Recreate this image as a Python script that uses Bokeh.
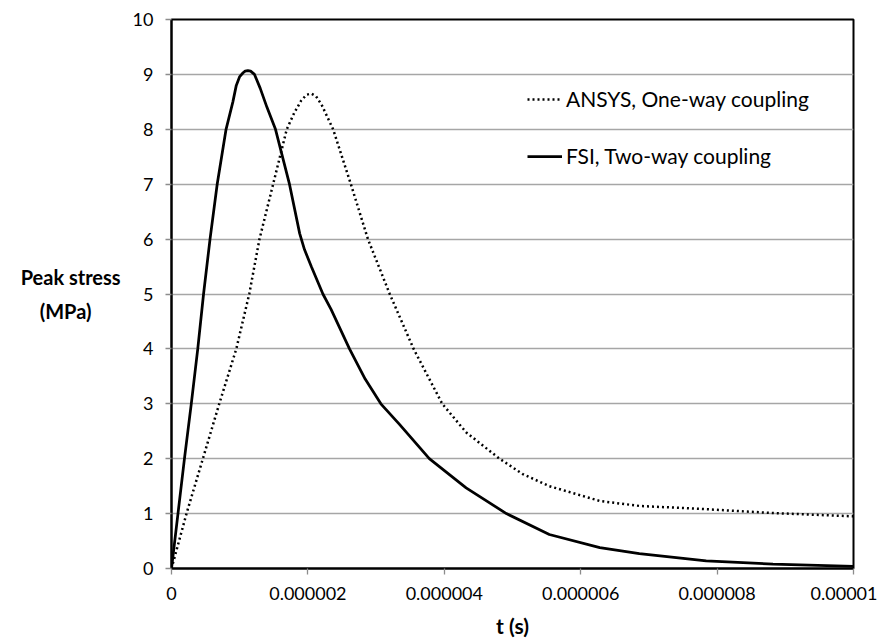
import numpy as np
from bokeh.plotting import figure
from bokeh.models import (ColumnDataSource, FixedTicker, Legend, LegendItem)
from bokeh.embed import file_html
from bokeh.resources import INLINE

# ---- data (time in microseconds, stress in MPa) ----
fsi_t_us = [0.0, 0.095, 0.19, 0.29, 0.385, 0.47, 0.565, 0.67, 0.80, 0.90, 0.95, 1.0,
            1.05, 1.08, 1.12, 1.16, 1.217, 1.30, 1.40, 1.525, 1.73, 1.88, 1.95, 2.05,
            2.22, 2.34, 2.61, 2.84, 3.07, 3.34, 3.64, 3.78, 4.32, 4.91, 5.54, 6.28,
            6.86, 7.84, 8.82, 10.0]
fsi_v = [0.0, 1.0, 2.0, 3.0, 4.0, 5.0, 6.0, 7.0, 8.0, 8.5, 8.8, 8.96,
         9.03, 9.06, 9.07, 9.06, 9.0, 8.75, 8.4, 8.0, 7.0, 6.1, 5.81, 5.5,
         5.0, 4.72, 4.0, 3.45, 3.0, 2.63, 2.2, 2.0, 1.47, 1.0, 0.62, 0.38,
         0.27, 0.14, 0.08, 0.04]

ansys_t_us = [0.0, 0.22, 0.46, 0.70, 0.95, 1.14, 1.29, 1.49, 1.69, 1.80, 1.90, 1.98,
              2.05, 2.12, 2.20, 2.37, 2.63, 2.88, 3.20, 3.34, 3.55, 3.97, 4.32, 4.81,
              5.15, 5.54, 6.28, 6.86, 7.84, 8.82, 10.0]
ansys_v = [0.0, 1.0, 2.0, 3.0, 4.0, 5.0, 6.0, 7.0, 8.0, 8.3, 8.52, 8.63,
           8.65, 8.6, 8.45, 8.0, 7.0, 6.0, 5.0, 4.6, 4.0, 3.0, 2.48, 2.0,
           1.72, 1.5, 1.23, 1.14, 1.08, 1.01, 0.95]

x_ticks = [0.0, 0.000002, 0.000004, 0.000006, 0.000008, 0.00001]
x_tick_labels = ["0", "0.000002", "0.000004", "0.000006", "0.000008", "0.00001"]
y_ticks = [0, 1, 2, 3, 4, 5, 6, 7, 8, 9, 10]

series_labels = ["ANSYS, One-way coupling", "FSI, Two-way coupling"]
y_title = ["Peak stress", "(MPa)"]
x_title = "t (s)"

FONT = "Lato"
NBSP = "\u00a0"

fsi_src = ColumnDataSource(dict(t=np.array(fsi_t_us) * 1e-6, v=fsi_v))
ansys_src = ColumnDataSource(dict(t=np.array(ansys_t_us) * 1e-6, v=ansys_v))

p = figure(frame_width=682, frame_height=549,
           x_range=(0, 0.00001), y_range=(0, 10),
           output_backend="svg", toolbar_location=None,
           min_border_left=171, min_border_right=24,
           min_border_top=19, min_border_bottom=60)

p.background_fill_color = "white"
p.border_fill_color = "white"
p.outline_line_color = "black"
p.outline_line_width = 2

# grid
p.xgrid.visible = False
p.ygrid.ticker = FixedTicker(ticks=y_ticks)
p.ygrid.grid_line_color = "#A6A6A6"
p.ygrid.grid_line_width = 1.3

# axes
p.xaxis.ticker = FixedTicker(ticks=x_ticks)
p.xaxis.major_label_overrides = {t: l for t, l in zip(x_ticks, x_tick_labels)}
p.yaxis.ticker = FixedTicker(ticks=y_ticks)
for ax in (p.xaxis[0], p.yaxis[0]):
    ax.axis_line_color = "black"
    ax.axis_line_width = 2
    ax.major_tick_line_color = "#8C8C8C"
    ax.major_tick_line_width = 1.3
    ax.major_tick_out = 6
    ax.major_tick_in = 0
    ax.minor_tick_line_color = None
    ax.major_label_text_font = FONT
    ax.major_label_text_font_size = "18px"
    ax.major_label_text_color = "black"
p.xaxis.major_label_standoff = 12
p.yaxis.major_label_standoff = 12

p.xaxis.axis_label = x_title
p.xaxis.axis_label_text_font = FONT
p.xaxis.axis_label_text_font_size = "21px"
p.xaxis.axis_label_text_font_style = "bold"
p.xaxis.axis_label_text_color = "black"
p.xaxis.axis_label_standoff = 10

yax = p.yaxis[0]
# second line padded with non-breaking spaces so it sits centred under the first
yax.axis_label = y_title[0] + "\n" + y_title[1] + NBSP * 6
yax.axis_label_orientation = "horizontal"
yax.axis_label_text_font = FONT
yax.axis_label_text_font_size = "20px"
yax.axis_label_text_font_style = "bold"
yax.axis_label_text_color = "black"
yax.axis_label_text_line_height = 1.45
yax.axis_label_standoff = 9

# lines
r_ansys = p.line("t", "v", source=ansys_src, line_color="black", line_width=2.5,
                 line_dash="2 3")
r_fsi = p.line("t", "v", source=fsi_src, line_color="black", line_width=2.75)

legend = Legend(items=[LegendItem(label=series_labels[0], renderers=[r_ansys]),
                       LegendItem(label=series_labels[1], renderers=[r_fsi])],
                location=(356, 400), orientation="vertical",
                glyph_width=35, glyph_height=24, label_height=24, spacing=32,
                label_standoff=4, padding=0, margin=0,
                border_line_color=None, background_fill_alpha=0,
                label_text_font=FONT, label_text_font_size="21px",
                label_text_color="black")
p.add_layout(legend)

open("out.html", "w").write(file_html(p, INLINE))
